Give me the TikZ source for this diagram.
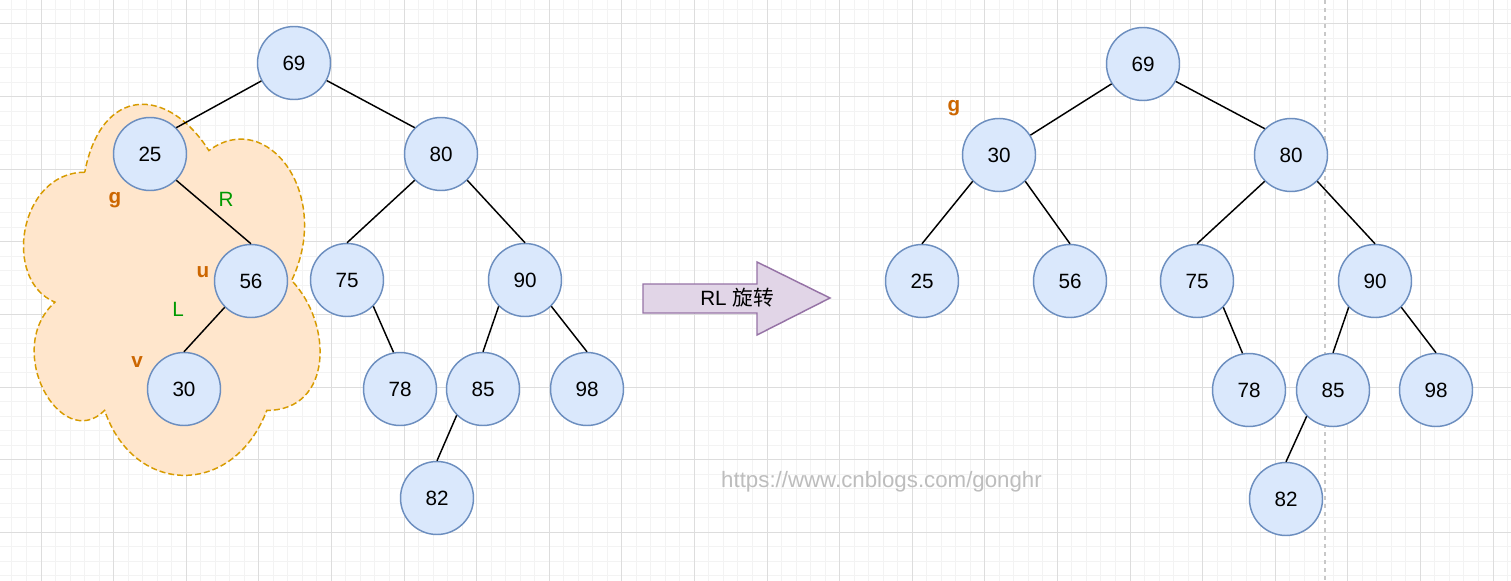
\documentclass[tikz,border=0pt]{standalone}
\usepackage{fontspec}
\setmainfont{Liberation Sans}
\newfontfamily\cjk{Noto Sans CJK SC}
\definecolor{nodefill}{HTML}{DAE8FC}
\definecolor{nodedraw}{HTML}{6C8EBF}
\definecolor{cloudfill}{HTML}{FFE6CC}
\definecolor{clouddraw}{HTML}{D79B00}
\definecolor{arrfill}{HTML}{E1D5E7}
\definecolor{arrdraw}{HTML}{9673A6}
\definecolor{labor}{HTML}{CC6600}
\definecolor{labgr}{HTML}{009900}
\definecolor{gridminor}{HTML}{F3F3F3}
\definecolor{gridmajor}{HTML}{DDDDDD}
\definecolor{wmark}{HTML}{BDBDBD}
\definecolor{vdash}{HTML}{C8C8C8}
\newcommand{\numfont}{\fontsize{15.5}{18}\selectfont}
\begin{document}
\begin{tikzpicture}[x=0.75pt,y=-0.75pt,
  tn/.style={circle,draw=nodedraw,fill=nodefill,line width=1.1pt,minimum size=54.75pt,inner sep=0pt,font=\numfont},
  edge/.style={draw=black,line width=1.1pt},
  orlab/.style={text=labor,font=\numfont\bfseries,inner sep=0pt},
  grlab/.style={text=labgr,font=\numfont,inner sep=0pt},
  minorline/.style={draw=gridminor,line width=0.75pt},
  majorline/.style={draw=gridmajor,line width=0.75pt}]
\useasboundingbox (0,0) rectangle (1511,581);
\fill[white] (0,0) rectangle (1511,581);
% grid
\foreach \i in {-1,...,103} {\draw[minorline] ({11.96+14.52*\i},0) -- ({11.96+14.52*\i},581);}
\foreach \j in {-1,...,39} {\draw[minorline] (0,{9.48+14.52*\j}) -- (1511,{9.48+14.52*\j});}
\foreach \k in {0,...,20} {\draw[majorline] ({41+72.6*\k},0) -- ({41+72.6*\k},581);}
\foreach \k in {0,...,7} {\draw[majorline] (0,{24+72.6*\k}) -- (1511,{24+72.6*\k});}
\draw[vdash,line width=0.9pt,dash pattern=on 3pt off 3pt] (1325,0) -- (1325,581);
% cloud
\draw[fill=cloudfill,draw=clouddraw,line width=1.1pt,dash pattern=on 4.5pt off 2.25pt]
 (84.75,172.25) .. controls (18.55,172.25) and (2,280.5) .. (54.96,302.15)
 .. controls (2,349.78) and (61.58,453.7) .. (104.61,410.4)
 .. controls (134.4,497) and (233.7,497) .. (266.8,410.4)
 .. controls (333,410.4) and (333,323.8) .. (291.625,280.5)
 .. controls (333,193.9) and (266.8,107.3) .. (208.875,150.6)
 .. controls (167.5,85.65) and (101.3,85.65) .. (84.75,172.25) -- cycle;
% left tree
\node[tn] (a69) at (294,63) {69};
\node[tn] (a25) at (150,154) {25};
\node[tn] (a80) at (441,154) {80};
\node[tn] (a56) at (251,281) {56};
\node[tn] (a75) at (347,280) {75};
\node[tn] (a90) at (525,280) {90};
\node[tn] (a30) at (184,389) {30};
\node[tn] (a78) at (400,389) {78};
\node[tn] (a85) at (483,389) {85};
\node[tn] (a98) at (587,389) {98};
\node[tn] (a82) at (437,498) {82};
\draw[edge] (a25.north east) -- (a69);
\draw[edge] (a80.north west) -- (a69);
\draw[edge] (a25.south east) -- (a56.north);
\draw[edge] (a56.south west) -- (a30.north);
\draw[edge] (a80.south west) -- (a75.north);
\draw[edge] (a80.south east) -- (a90.north);
\draw[edge] (a75.south east) -- (a78.100);
\draw[edge] (a90.south west) -- (a85.north);
\draw[edge] (a90.south east) -- (a98.north);
\draw[edge] (a85.south west) -- (a82.north);
\node[orlab] (lg) at (115,200) {g};
\node[grlab] (lR) at (226,199) {R};
\node[orlab] (lu) at (203,272) {u};
\node[grlab] (lL) at (178,309) {L};
\node[orlab] (lv) at (137,362) {v};
% arrow
\draw[fill=arrfill,draw=arrdraw,line width=1.1pt,line join=miter]
 (643,284) -- (757,284) -- (757,262) -- (830,298) -- (757,335) -- (757,313) -- (643,313) -- cycle;
\node[font=\numfont,inner sep=0pt] (arrtxt) at (737,298) {RL {\cjk 旋转}};
% right tree
\node[tn] (b69) at (1143,64) {69};
\node[tn] (b30) at (999,155) {30};
\node[tn] (b80) at (1291,155) {80};
\node[tn] (b25) at (922,281) {25};
\node[tn] (b56) at (1070,281) {56};
\node[tn] (b75) at (1197,281) {75};
\node[tn] (b90) at (1375,281) {90};
\node[tn] (b78) at (1249,390) {78};
\node[tn] (b85) at (1333,390) {85};
\node[tn] (b98) at (1436,390) {98};
\node[tn] (b82) at (1286,499) {82};
\draw[edge] (b30) -- (b69);
\draw[edge] (b80.north west) -- (b69);
\draw[edge] (b30.south west) -- (b25.north);
\draw[edge] (b30.south east) -- (b56.north);
\draw[edge] (b80.south west) -- (b75.north);
\draw[edge] (b80.south east) -- (b90.north);
\draw[edge] (b75.south east) -- (b78.100);
\draw[edge] (b90.south west) -- (b85.north);
\draw[edge] (b90.south east) -- (b98.north);
\draw[edge] (b85.south west) -- (b82.north);
\node[orlab] (rg) at (954,108) {g};
% watermark
\node[text=wmark,font=\fontsize{16.7}{20}\selectfont,inner sep=0pt] (wm) at (881.5,482) {https://www.cnblogs.com/gonghr};
\end{tikzpicture}
\end{document}
